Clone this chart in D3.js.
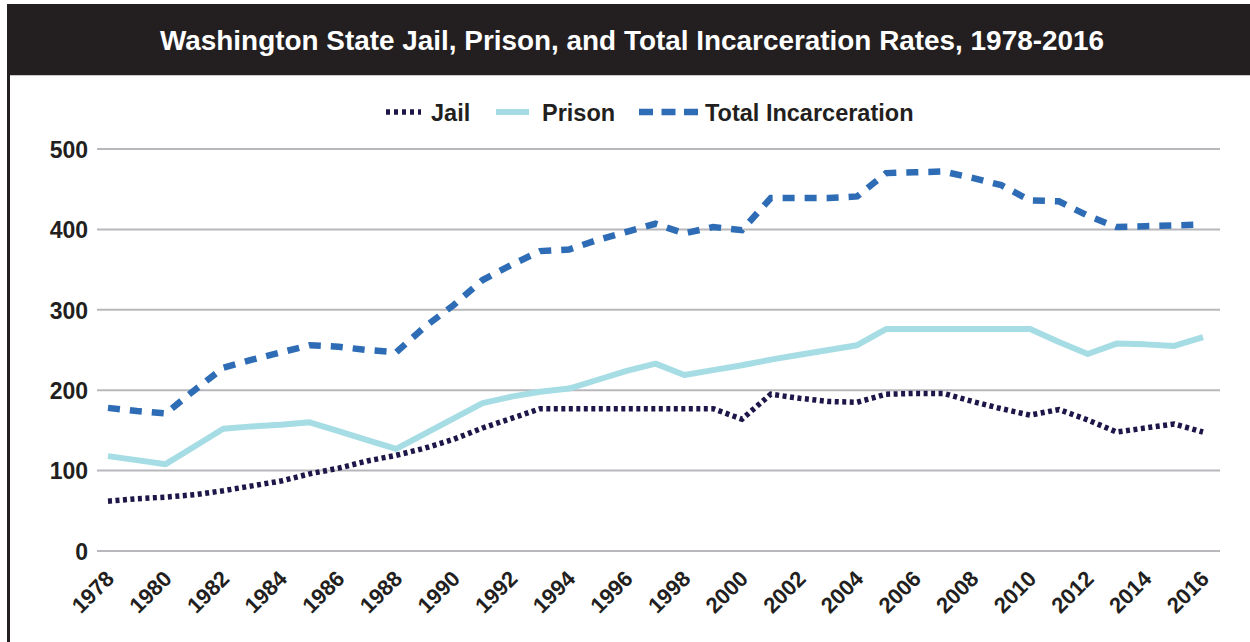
<!DOCTYPE html>
<html>
<head>
<meta charset="utf-8">
<script src="https://cdn.jsdelivr.net/npm/d3@7"></script>
<style>
  html, body { margin: 0; padding: 0; background: #fff; }
  svg { display: block; }
  text { font-family: "Liberation Sans", Arial, sans-serif; font-weight: bold; fill: #231f20; }
</style>
</head>
<body>
<svg id="chart" width="1250" height="642"></svg>
<script>
const title = "Washington State Jail, Prison, and Total Incarceration Rates, 1978-2016";
const years = d3.range(1978, 2017);
const jail = [62, 65, 67, 70, 75, 81, 87, 96, 103, 112, 119, 128, 139, 153, 165, 177,
  177, 177, 177, 177, 177, 177, 164, 195, 190, 186, 185, 195, 196, 196, 186, 177, 169, 176, 163, 148, 153, 158, 148];
const prison = [118, 113, 108, 130, 152, 155, 157, 160, 149, 138, 127, 146, 165, 184, 192, 198,
  202, 213, 224, 233, 219, 225, 231, 238, 244, 250, 256, 276, 276, 276, 276, 276, 276, 260, 245, 258, 257, 255, 266];
const total = [178, 174, 171, 200, 228, 238, 247, 256, 254, 250, 247, 279, 306, 337, 356, 373,
  375, 387, 397, 407, 395, 403, 399, 439, 439, 439, 441, 470, 471, 472, 464, 455, 436, 435, 417, 403, 404, 405, 406];
const yTicks = [0, 100, 200, 300, 400, 500];
const xTickYears = d3.range(1978, 2017, 2);
const seriesNames = ["Jail", "Prison", "Total Incarceration"];
const seriesColors = ["#1c1748", "#a6dde5", "#2e6db5"];

const svg = d3.select("#chart");
const W = 1250, H = 642;

// frame: title bar and left border
svg.append("rect").attr("x", 8).attr("y", 4).attr("width", W - 8).attr("height", 71).attr("fill", "#231f20");
svg.append("rect").attr("x", 7).attr("y", 4).attr("width", 3).attr("height", H - 4).attr("fill", "#231f20");
svg.append("line").attr("x1", 10).attr("x2", W).attr("y1", 75.5).attr("y2", 75.5).attr("stroke", "#c8c8c8").attr("stroke-width", 1);

svg.append("text")
  .attr("x", 632).attr("y", 50)
  .attr("text-anchor", "middle")
  .attr("textLength", 944).attr("lengthAdjust", "spacingAndGlyphs")
  .style("font-size", "27.5px").style("fill", "#ffffff")
  .text(title);

const x = d3.scaleLinear().domain([1978, 2016]).range([108, 1203]);
const y = d3.scaleLinear().domain([0, 500]).range([551, 149]);

// gridlines
const grid = svg.append("g");
grid.selectAll("line").data(yTicks).join("line")
  .attr("x1", 97).attr("x2", 1220)
  .attr("y1", d => y(d)).attr("y2", d => y(d))
  .attr("stroke", "#b8b8bc").attr("stroke-width", 2);

// y axis labels
const yAxis = svg.append("g").attr("transform", "translate(88,0)")
  .call(d3.axisLeft(y).tickValues(yTicks).tickSize(0).tickPadding(0));
yAxis.select(".domain").remove();
yAxis.selectAll("text").style("font-size", "23px").style("font-family", "\"Liberation Sans\", Arial, sans-serif")
  .style("font-weight", "bold").attr("fill", "#231f20").attr("dy", "0.36em");

// x axis labels
const xAxis = svg.append("g").attr("transform", "translate(0,551)")
  .call(d3.axisBottom(x).tickValues(xTickYears).tickFormat(d3.format("d")).tickSize(0));
xAxis.select(".domain").remove();
xAxis.selectAll("text")
  .style("font-size", "22px").style("font-family", "\"Liberation Sans\", Arial, sans-serif")
  .style("font-weight", "bold").attr("fill", "#231f20")
  .attr("text-anchor", "end")
  .attr("dy", null).attr("y", null)
  .attr("transform", "translate(7,29) rotate(-45)");

const line = d3.line().x((d, i) => x(years[i])).y(d => y(d));

svg.append("path").datum(prison).attr("d", line)
  .attr("fill", "none").attr("stroke", seriesColors[1]).attr("stroke-width", 6).attr("stroke-linejoin", "round");
svg.append("path").datum(jail).attr("d", line)
  .attr("fill", "none").attr("stroke", seriesColors[0]).attr("stroke-width", 5.5)
  .attr("stroke-dasharray", "4,3.5");
svg.append("path").datum(total).attr("d", line)
  .attr("fill", "none").attr("stroke", seriesColors[2]).attr("stroke-width", 6.5)
  .attr("stroke-dasharray", "12,10");

// legend
const legendY = 112;
const lg = svg.append("g");
lg.append("line").attr("x1", 386).attr("x2", 421).attr("y1", legendY).attr("y2", legendY)
  .attr("stroke", seriesColors[0]).attr("stroke-width", 5.5).attr("stroke-dasharray", "4,4");
lg.append("text").attr("x", 431).attr("y", legendY + 8.5).style("font-size", "23.5px").text(seriesNames[0]);
lg.append("line").attr("x1", 496).attr("x2", 529).attr("y1", legendY).attr("y2", legendY)
  .attr("stroke", seriesColors[1]).attr("stroke-width", 6);
lg.append("text").attr("x", 542).attr("y", legendY + 8.5).style("font-size", "23.5px").text(seriesNames[1]);
lg.append("line").attr("x1", 639).attr("x2", 698).attr("y1", legendY).attr("y2", legendY)
  .attr("stroke", seriesColors[2]).attr("stroke-width", 6.5).attr("stroke-dasharray", "14,8.5");
lg.append("text").attr("x", 705).attr("y", legendY + 8.5).style("font-size", "23.5px").text(seriesNames[2]);
</script>
</body>
</html>
